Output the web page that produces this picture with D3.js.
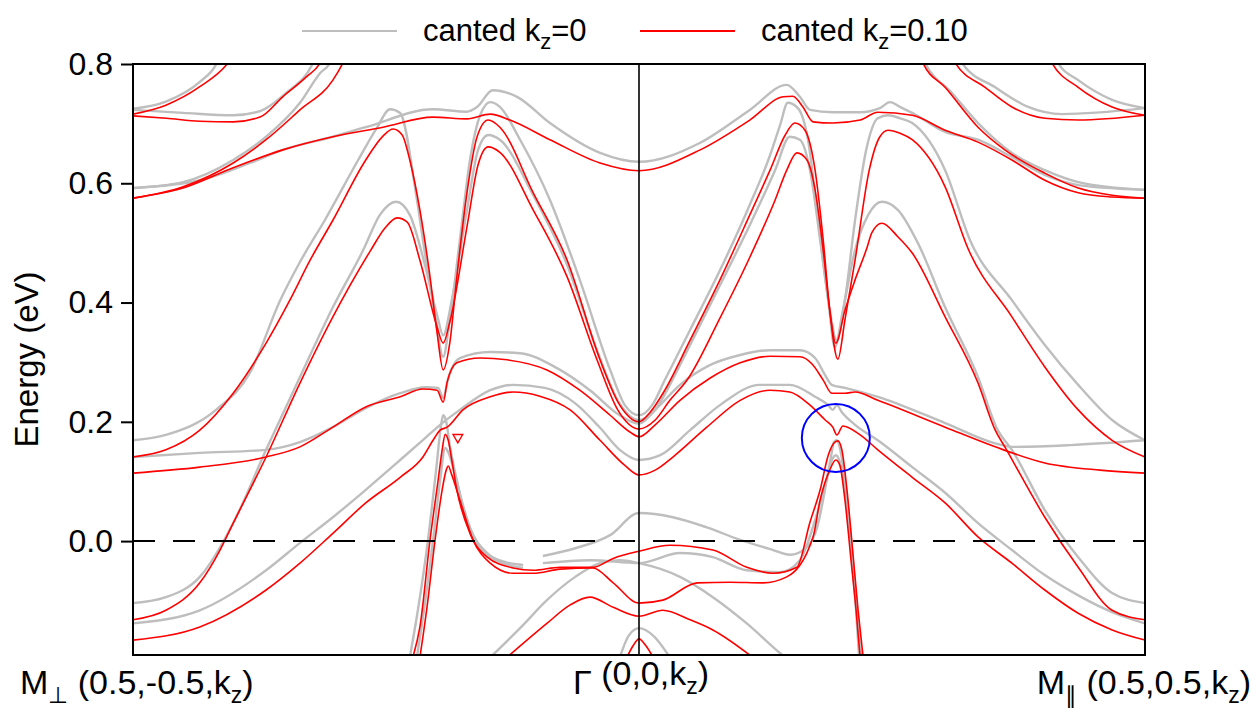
<!DOCTYPE html>
<html lang="en">
<head>
<meta charset="UTF-8">
<title>bands</title>
<script src="https://d3js.org/d3.v7.min.js"></script>
<style>
  body { margin: 0; background: #fff; }
  svg { display: block; font-family: "Liberation Sans", Arial, sans-serif; }
</style>
</head>
<body>
<script>
// k path coordinate: -1 = M_perp, 0 = Gamma, 1 = M_par ; energies in eV
const yTicks = [0.0, 0.2, 0.4, 0.6, 0.8];

// canted kz=0.10 (red)
const red1 = [[-1,0.716],[-0.935,0.731],[-0.868,0.762],[-0.812,0.802],[-0.79,0.83]];
const red2 = [[-1,0.713],[-0.934,0.709],[-0.868,0.704],[-0.802,0.703],[-0.749,0.711],[-0.704,0.745],[-0.658,0.778],[-0.630,0.802],[-0.615,0.83]];
const red3 = [[-1,0.575],[-0.901,0.594],[-0.802,0.634],[-0.737,0.673],[-0.670,0.723],[-0.605,0.773],[-0.585,0.802],[-0.57,0.83]];
const red4 = [[-1,0.575],[-0.901,0.592],[-0.802,0.626],[-0.704,0.656],[-0.605,0.678],[-0.506,0.694],[-0.407,0.711],[-0.340,0.708],[-0.294,0.716],[-0.255,0.706],[-0.176,0.673],[-0.077,0.634],[0,0.621],[0.121,0.656],[0.219,0.706],[0.285,0.745],[0.304,0.746],[0.324,0.728],[0.344,0.703],[0.383,0.701],[0.437,0.706],[0.472,0.719],[0.540,0.714],[0.605,0.689],[0.670,0.669],[0.737,0.639],[0.802,0.605],[0.868,0.584],[0.935,0.577],[1,0.575]];
const red5 = [[0.80,0.83],[0.816,0.802],[0.868,0.761],[0.935,0.728],[1,0.714]];
const red6 = [[0.61,0.83],[0.625,0.802],[0.684,0.761],[0.737,0.728],[0.802,0.709],[0.868,0.706],[1,0.714]];
const red7 = [[0.55,0.83],[0.561,0.802],[0.605,0.761],[0.670,0.694],[0.723,0.656],[0.802,0.617],[0.868,0.592],[0.935,0.580],[1,0.575]];
const redW1 = [[-1,0.141],[-0.935,0.153],[-0.868,0.186],[-0.802,0.248],[-0.737,0.332],[-0.690,0.404],[-0.650,0.471],[-0.605,0.538],[-0.540,0.639],[-0.506,0.679],[-0.486,0.691],[-0.468,0.681],[-0.453,0.639],[-0.433,0.555],[-0.413,0.443],[-0.399,0.349],[-0.387,0.287],[-0.374,0.332],[-0.360,0.443],[-0.340,0.584],[-0.320,0.678],[-0.298,0.706],[-0.275,0.694],[-0.209,0.584],[-0.142,0.471],[-0.077,0.304],[-0.038,0.228],[0,0.200],[0.022,0.216],[0.051,0.253],[0.101,0.337],[0.160,0.438],[0.219,0.547],[0.259,0.622],[0.289,0.681],[0.308,0.701],[0.328,0.689],[0.348,0.622],[0.364,0.505],[0.377,0.387],[0.393,0.305],[0.407,0.371],[0.427,0.471],[0.455,0.622],[0.476,0.678],[0.492,0.689],[0.516,0.684],[0.540,0.673],[0.605,0.594],[0.650,0.491],[0.737,0.376],[0.802,0.292],[0.868,0.220],[0.935,0.169],[1,0.141]];
const redW2 = [[-1,-0.132],[-0.935,-0.116],[-0.868,-0.070],[-0.828,-0.015],[-0.802,0.030],[-0.737,0.141],[-0.670,0.265],[-0.605,0.376],[-0.530,0.488],[-0.502,0.525],[-0.478,0.542],[-0.458,0.535],[-0.433,0.471],[-0.399,0.359],[-0.387,0.332],[-0.374,0.367],[-0.340,0.527],[-0.318,0.631],[-0.298,0.661],[-0.275,0.652],[-0.209,0.555],[-0.142,0.443],[-0.083,0.304],[-0.042,0.220],[0,0.188],[0.032,0.203],[0.061,0.236],[0.095,0.270],[0.160,0.374],[0.219,0.476],[0.269,0.572],[0.292,0.622],[0.312,0.651],[0.332,0.639],[0.348,0.589],[0.364,0.488],[0.377,0.387],[0.389,0.332],[0.407,0.387],[0.427,0.438],[0.451,0.493],[0.460,0.517],[0.480,0.533],[0.512,0.510],[0.540,0.483],[0.605,0.376],[0.670,0.265],[0.704,0.186],[0.723,0.158],[0.802,0.040],[0.868,-0.044],[0.935,-0.116],[1,-0.132]];
const redH = [[-1,0.114],[-0.868,0.124],[-0.737,0.141],[-0.670,0.158],[-0.605,0.191],[-0.540,0.225],[-0.472,0.242],[-0.427,0.255],[-0.399,0.253],[-0.387,0.233],[-0.379,0.267],[-0.360,0.299],[-0.314,0.307],[-0.261,0.304],[-0.182,0.287],[-0.117,0.253],[-0.057,0.211],[-0.018,0.183],[0,0.175],[0.032,0.195],[0.081,0.236],[0.140,0.273],[0.200,0.299],[0.259,0.310],[0.318,0.309],[0.342,0.297],[0.364,0.270],[0.381,0.248],[0.407,0.248],[0.427,0.250],[0.472,0.236],[0.605,0.191],[0.704,0.158],[0.802,0.131],[0.911,0.119],[1,0.114]];
const redC = [[-1,-0.166],[-0.868,-0.144],[-0.737,-0.082],[-0.670,-0.037],[-0.605,0.013],[-0.540,0.064],[-0.472,0.107],[-0.427,0.141],[-0.407,0.169],[-0.393,0.186],[-0.379,0.191],[-0.348,0.220],[-0.294,0.242],[-0.249,0.250],[-0.196,0.243],[-0.136,0.220],[-0.077,0.169],[-0.028,0.127],[0,0.111],[0.032,0.119],[0.067,0.141],[0.134,0.191],[0.200,0.236],[0.259,0.253],[0.298,0.250],[0.338,0.228],[0.368,0.203],[0.383,0.191],[0.391,0.178],[0.403,0.193],[0.437,0.178],[0.472,0.153],[0.540,0.107],[0.605,0.064],[0.670,0.007],[0.737,-0.037],[0.802,-0.082],[0.868,-0.121],[0.935,-0.149],[1,-0.166]];
const redL1 = [[-0.447,-0.195],[-0.433,-0.144],[-0.413,0.002],[-0.397,0.102],[-0.389,0.153],[-0.383,0.179],[-0.377,0.169],[-0.370,0.136],[-0.360,0.086],[-0.334,0.013],[-0.300,-0.027],[-0.249,-0.045],[-0.209,-0.049],[-0.156,-0.044],[-0.091,-0.044],[-0.051,-0.029],[0,-0.017],[0.061,-0.007],[0.146,-0.015],[0.213,-0.044],[0.265,-0.054],[0.312,-0.044],[0.338,0.032],[0.358,0.086],[0.374,0.144],[0.385,0.164],[0.393,0.168],[0.401,0.153],[0.411,0.086],[0.423,-0.023],[0.433,-0.116],[0.443,-0.195]];
const redL2 = [[-0.433,-0.195],[-0.419,-0.111],[-0.403,0.002],[-0.389,0.086],[-0.381,0.119],[-0.377,0.126],[-0.370,0.111],[-0.354,0.069],[-0.328,0.002],[-0.294,-0.037],[-0.249,-0.054],[-0.209,-0.054],[-0.156,-0.047],[-0.091,-0.045],[-0.051,-0.070],[0,-0.104],[0.047,-0.099],[0.115,-0.070],[0.180,-0.069],[0.245,-0.070],[0.292,-0.060],[0.344,0.007],[0.358,0.069],[0.377,0.119],[0.389,0.136],[0.397,0.127],[0.407,0.069],[0.419,-0.032],[0.429,-0.116],[0.437,-0.195]];
const redL3 = [[-0.261,-0.195],[-0.182,-0.138],[-0.136,-0.107],[-0.097,-0.094],[-0.051,-0.111],[0,-0.126],[0.047,-0.116],[0.101,-0.132],[0.146,-0.149],[0.225,-0.195]];
const redL4 = [[-0.024,-0.195],[-0.012,-0.176],[0,-0.164],[0.014,-0.176],[0.028,-0.195]];

// canted kz=0 (grey)
const grey1 = [[-1,0.725],[-0.935,0.737],[-0.868,0.770],[-0.836,0.799],[-0.82,0.83]];
const grey2 = [[-1,0.723],[-0.901,0.718],[-0.802,0.714],[-0.749,0.721],[-0.698,0.751],[-0.644,0.802],[-0.63,0.83]];
const grey3 = [[-1,0.592],[-0.901,0.602],[-0.802,0.639],[-0.737,0.678],[-0.670,0.735],[-0.630,0.785],[-0.611,0.802],[-0.6,0.83]];
const grey4 = [[-1,0.592],[-0.868,0.605],[-0.769,0.634],[-0.704,0.656],[-0.605,0.678],[-0.540,0.694],[-0.407,0.724],[-0.340,0.720],[-0.320,0.728],[-0.289,0.756],[-0.241,0.745],[-0.176,0.701],[-0.077,0.651],[0,0.636],[0.121,0.668],[0.219,0.723],[0.292,0.765],[0.318,0.745],[0.338,0.723],[0.383,0.719],[0.437,0.719],[0.476,0.726],[0.496,0.736],[0.516,0.728],[0.540,0.718],[0.605,0.686],[0.670,0.673],[0.737,0.644],[0.802,0.614],[0.868,0.597],[1,0.589]];
const grey5 = [[0.82,0.83],[0.828,0.802],[0.868,0.773],[0.935,0.740],[1,0.726]];
const grey6 = [[0.63,0.83],[0.638,0.802],[0.704,0.761],[0.769,0.728],[0.836,0.716],[1,0.726]];
const grey7 = [[0.55,0.83],[0.565,0.802],[0.619,0.751],[0.670,0.701],[0.737,0.651],[0.802,0.622],[0.868,0.602],[1,0.589]];
const greyW1 = [[-1,0.169],[-0.935,0.178],[-0.836,0.220],[-0.769,0.282],[-0.709,0.404],[-0.670,0.468],[-0.621,0.538],[-0.555,0.639],[-0.518,0.693],[-0.492,0.724],[-0.472,0.718],[-0.441,0.584],[-0.421,0.471],[-0.403,0.379],[-0.387,0.309],[-0.374,0.371],[-0.354,0.505],[-0.334,0.639],[-0.314,0.714],[-0.294,0.736],[-0.275,0.728],[-0.235,0.673],[-0.176,0.572],[-0.117,0.438],[-0.057,0.287],[-0.028,0.228],[0,0.211],[0.026,0.228],[0.051,0.270],[0.101,0.354],[0.160,0.454],[0.219,0.564],[0.259,0.647],[0.279,0.698],[0.294,0.735],[0.314,0.726],[0.334,0.673],[0.354,0.538],[0.374,0.404],[0.391,0.337],[0.407,0.404],[0.427,0.538],[0.449,0.656],[0.472,0.709],[0.492,0.714],[0.516,0.709],[0.540,0.701],[0.605,0.622],[0.654,0.505],[0.737,0.404],[0.802,0.329],[0.868,0.262],[0.935,0.203],[1,0.169]];
const greyW2 = [[-1,-0.104],[-0.935,-0.094],[-0.868,-0.060],[-0.802,0.030],[-0.737,0.153],[-0.670,0.275],[-0.605,0.392],[-0.545,0.488],[-0.512,0.547],[-0.480,0.569],[-0.453,0.547],[-0.423,0.463],[-0.399,0.379],[-0.387,0.345],[-0.370,0.404],[-0.340,0.555],[-0.318,0.656],[-0.298,0.681],[-0.275,0.673],[-0.209,0.580],[-0.142,0.463],[-0.083,0.320],[-0.042,0.236],[0,0.203],[0.032,0.220],[0.061,0.262],[0.101,0.329],[0.160,0.429],[0.219,0.530],[0.269,0.622],[0.298,0.678],[0.318,0.673],[0.338,0.622],[0.358,0.505],[0.374,0.404],[0.387,0.325],[0.403,0.387],[0.427,0.488],[0.453,0.547],[0.480,0.569],[0.512,0.555],[0.551,0.500],[0.605,0.392],[0.670,0.275],[0.709,0.186],[0.737,0.153],[0.802,0.052],[0.868,-0.027],[0.935,-0.087],[1,-0.104]];
const greyH = [[-1,0.141],[-0.868,0.148],[-0.737,0.153],[-0.670,0.166],[-0.605,0.191],[-0.540,0.223],[-0.472,0.248],[-0.421,0.258],[-0.397,0.257],[-0.387,0.240],[-0.377,0.273],[-0.354,0.307],[-0.294,0.317],[-0.235,0.315],[-0.162,0.290],[-0.097,0.253],[-0.038,0.211],[0,0.197],[0.032,0.220],[0.081,0.262],[0.140,0.295],[0.200,0.312],[0.259,0.320],[0.318,0.320],[0.348,0.307],[0.368,0.278],[0.381,0.262],[0.407,0.257],[0.472,0.242],[0.605,0.198],[0.704,0.164],[0.737,0.158],[0.852,0.161],[1,0.169]];
const greyC = [[-1,-0.138],[-0.868,-0.116],[-0.737,-0.049],[-0.670,-0.003],[-0.605,0.040],[-0.540,0.086],[-0.472,0.136],[-0.421,0.174],[-0.393,0.195],[-0.354,0.220],[-0.294,0.253],[-0.249,0.262],[-0.186,0.257],[-0.126,0.231],[-0.077,0.190],[-0.038,0.153],[0,0.136],[0.042,0.144],[0.101,0.186],[0.160,0.228],[0.239,0.262],[0.298,0.262],[0.348,0.242],[0.374,0.228],[0.383,0.220],[0.391,0.228],[0.401,0.216],[0.427,0.195],[0.472,0.169],[0.540,0.124],[0.605,0.081],[0.670,0.030],[0.737,-0.015],[0.802,-0.057],[0.868,-0.091],[0.935,-0.119],[1,-0.138]];
const greyL1 = [[-0.453,-0.195],[-0.437,-0.116],[-0.417,0.002],[-0.401,0.119],[-0.391,0.195],[-0.387,0.211],[-0.381,0.200],[-0.374,0.161],[-0.360,0.102],[-0.334,0.023],[-0.300,-0.020],[-0.265,-0.035],[-0.229,-0.040]];
const greyL2 = [[-0.439,-0.195],[-0.425,-0.116],[-0.407,0.002],[-0.393,0.102],[-0.383,0.156],[-0.377,0.149],[-0.362,0.106],[-0.344,0.044],[-0.314,-0.012],[-0.275,-0.035],[-0.229,-0.045]];
const greyL5 = [[-0.190,-0.025],[-0.126,-0.012],[-0.057,0.010],[0,0.047],[0.067,0.040],[0.134,0.023],[0.200,0.002],[0.265,-0.015],[0.298,-0.023],[0.332,-0.010],[0.352,0.023],[0.372,0.107],[0.381,0.149],[0.385,0.166],[0.391,0.169],[0.397,0.156],[0.409,0.086],[0.421,-0.015],[0.431,-0.116],[0.439,-0.195]];
const greyL6 = [[-0.190,-0.037],[-0.097,-0.032],[0,-0.037],[0.081,-0.020],[0.146,-0.027],[0.213,-0.049],[0.279,-0.052],[0.318,-0.032],[0.348,0.035],[0.370,0.102],[0.383,0.139],[0.389,0.144],[0.397,0.132],[0.409,0.069],[0.421,-0.032],[0.429,-0.116],[0.435,-0.195]];
const greyL3 = [[-0.294,-0.195],[-0.235,-0.146],[-0.182,-0.099],[-0.126,-0.060],[-0.077,-0.037],[-0.038,-0.032],[0,-0.037],[0.081,-0.060],[0.146,-0.094],[0.213,-0.138],[0.279,-0.188],[0.289,-0.195]];
const greyL4 = [[-0.038,-0.195],[-0.02,-0.158],[0,-0.146],[0.03,-0.160],[0.061,-0.195]];

const redBands = [red1, red2, red3, red4, red5, red6, red7, redW1, redW2, redH, redC, redL1, redL2, redL3, redL4];
const greyBands = [grey1, grey2, grey3, grey4, grey5, grey6, grey7, greyW1, greyW2, greyH, greyC, greyL1, greyL2, greyL5, greyL6, greyL3, greyL4];

const marker = [-0.358, 0.174];   // small red triangle
const ring = [0.389, 0.173];      // blue circle

const width = 1257, height = 716;
const m = { left: 133, right: 112, top: 64, bottom: 61 };

const x = d3.scaleLinear().domain([-1, 1]).range([m.left, width - m.right]);
const y = d3.scaleLinear().domain([-0.191, 0.8]).range([height - m.bottom, m.top]);

const svg = d3.select("body").append("svg")
    .attr("width", width)
    .attr("height", height);

svg.append("clipPath").attr("id", "plot")
  .append("rect")
    .attr("x", m.left).attr("y", m.top)
    .attr("width", x(1) - x(-1)).attr("height", y(-0.191) - y(0.8));

const line = d3.line()
    .x(d => x(d[0]))
    .y(d => y(d[1]))
    .curve(d3.curveMonotoneX);

const g = svg.append("g").attr("clip-path", "url(#plot)");

g.selectAll("path.grey")
  .data(greyBands)
  .join("path")
    .attr("class", "grey")
    .attr("d", line)
    .attr("fill", "none")
    .attr("stroke", "#bebebe")
    .attr("stroke-width", 2.4);

g.selectAll("path.red")
  .data(redBands)
  .join("path")
    .attr("class", "red")
    .attr("d", line)
    .attr("fill", "none")
    .attr("stroke", "#ff0000")
    .attr("stroke-width", 1.6);

// fermi level and Gamma line
svg.append("line")
    .attr("x1", x(-1)).attr("x2", x(1))
    .attr("y1", y(0)).attr("y2", y(0))
    .attr("stroke", "#000").attr("stroke-width", 2)
    .attr("stroke-dasharray", "22,18");

svg.append("line")
    .attr("x1", x(0)).attr("x2", x(0))
    .attr("y1", y(0.8)).attr("y2", y(-0.191))
    .attr("stroke", "#000").attr("stroke-width", 1.6);

// markers
svg.append("path")
    .attr("d", d3.symbol(d3.symbolTriangle, 40)())
    .attr("transform", `translate(${x(marker[0])},${y(marker[1])}) rotate(180)`)
    .attr("fill", "none")
    .attr("stroke", "#ff0000")
    .attr("stroke-width", 1.4);

svg.append("circle")
    .attr("cx", x(ring[0])).attr("cy", y(ring[1]))
    .attr("r", 34)
    .attr("fill", "none")
    .attr("stroke", "#0000ff")
    .attr("stroke-width", 2);

// frame
svg.append("rect")
    .attr("x", m.left).attr("y", m.top)
    .attr("width", x(1) - x(-1)).attr("height", y(-0.191) - y(0.8))
    .attr("fill", "none")
    .attr("stroke", "#000")
    .attr("stroke-width", 2);

// y axis
const yAxis = svg.append("g")
    .attr("transform", `translate(${m.left},0)`)
    .call(d3.axisLeft(y).tickValues(yTicks).tickFormat(d3.format(".1f")).tickSize(12).tickPadding(8));
yAxis.select(".domain").remove();
yAxis.selectAll("line").attr("stroke-width", 2);
yAxis.selectAll("text").attr("font-size", 32).attr("font-family", "Liberation Sans, Arial, sans-serif").attr("fill", "#000");

svg.append("text")
    .attr("transform", `translate(38,${(y(0.8) + y(-0.191)) / 2}) rotate(-90)`)
    .attr("text-anchor", "middle")
    .attr("font-size", 33)
    .text("Energy (eV)");

// x labels
function label(el, main, sub, rest) {
  el.append("tspan").text(main);
  el.append("tspan").attr("font-size", 23).attr("dy", 9).text(sub);
  el.append("tspan").attr("dy", -9).text(rest);
  el.append("tspan").attr("font-size", 23).attr("dy", 9).text("z");
  el.append("tspan").attr("dy", -9).text(")");
}
const xl = svg.append("g").attr("font-size", 34);
label(xl.append("text").attr("x", 20).attr("y", 694), "M", "\u22A5", " (0.5,-0.5,k");
label(xl.append("text").attr("x", x(0) + 2).attr("y", 694).attr("text-anchor", "middle"), "\u0393", "", " (0,0,k");
label(xl.append("text").attr("x", 1251).attr("y", 694).attr("text-anchor", "end"), "M", "\u2225", " (0.5,0.5,k");

// legend
const legend = [
  { name: "canted k", sub: "z", val: "=0", color: "#bebebe", x0: 302 },
  { name: "canted k", sub: "z", val: "=0.10", color: "#ff0000", x0: 640 }
];
const lg = svg.append("g").selectAll("g").data(legend).join("g")
    .attr("transform", d => `translate(${d.x0},31)`);
lg.append("line").attr("x2", 95).attr("stroke", d => d.color).attr("stroke-width", 2.2);
const lt = lg.append("text").attr("x", 121).attr("y", 10).attr("font-size", 31);
lt.append("tspan").text(d => d.name);
lt.append("tspan").attr("font-size", 22).attr("dy", 8).text(d => d.sub);
lt.append("tspan").attr("dy", -8).text(d => d.val);
</script>
</body>
</html>
